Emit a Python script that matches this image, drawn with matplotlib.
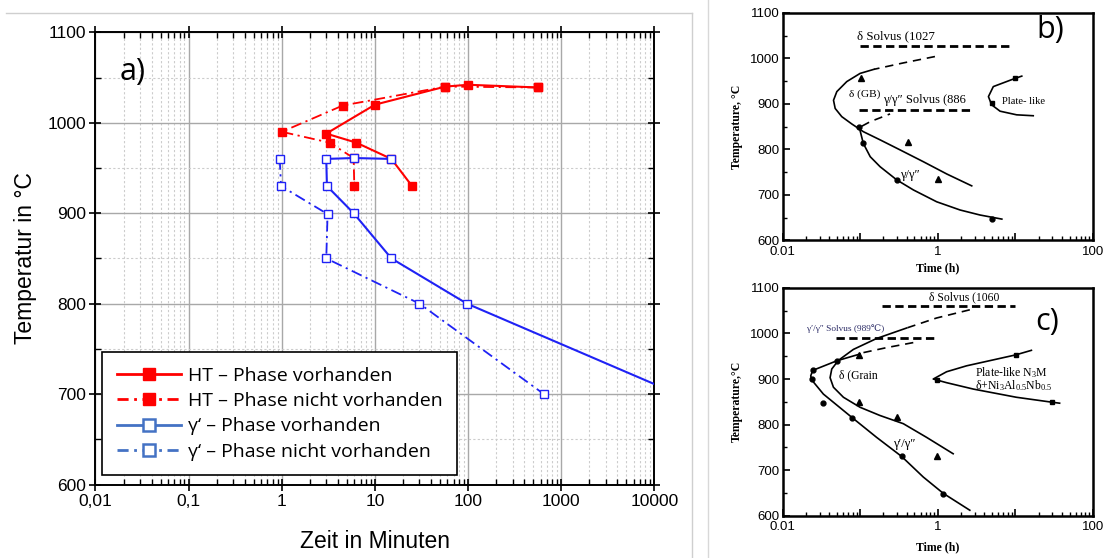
import matplotlib
matplotlib.use("Agg")
import matplotlib.pyplot as plt
from matplotlib.lines import Line2D
from matplotlib.ticker import FixedLocator, FixedFormatter, LogLocator, MultipleLocator, NullFormatter

plt.rcParams['mathtext.fontset'] = 'custom'
plt.rcParams['mathtext.rm'] = 'Liberation Serif'
plt.rcParams['mathtext.default'] = 'regular'

# --- a) Daten (Zeit in Minuten, Temperatur in °C) ---
ht_v_t = [25, 15, 6.3, 3.0, 10, 57, 100, 565]
ht_v_T = [930, 960, 978, 988, 1020, 1040, 1042, 1039]
ht_n_t = [565, 57, 4.5, 1.0, 3.25, 5.9, 6.0]
ht_n_T = [1039, 1040, 1019, 990, 978, 961, 930]
g_v_t = [15, 5.9, 3.0, 3.05, 5.9, 15, 97, 10000]
g_v_T = [960, 961, 960, 930, 900, 850, 800, 711]
g_n_t = [0.95, 0.98, 3.1, 3.0, 30, 650]
g_n_T = [960, 930, 899, 850, 800, 700]

x_ticks_a = [0.01, 0.1, 1, 10, 100, 1000, 10000]
x_labels_a = ['0,01', '0,1', '1', '10', '100', '1000', '10000']

# --- b) Daten (Zeit in h) ---
b_dgb_dash_t = [0.92, 0.36, 0.151]
b_dgb_dash_T = [1004, 990, 976]
b_dgb_t = [0.151, 0.1, 0.0673, 0.0501, 0.0454, 0.0477, 0.058, 0.078, 0.110, 0.181, 0.327, 0.653, 1.31, 2.74]
b_dgb_T = [976, 967, 949, 927, 908, 890, 872, 856, 839, 821, 799, 773, 746, 720]
b_gam_t = [0.097, 0.110, 0.135, 0.181, 0.297, 0.486, 0.97, 1.94, 3.5, 6.7]
b_gam_T = [850, 813, 784, 762, 733, 711, 685, 667, 656, 647]
b_gam_dash_t = [0.105, 0.135, 0.243]
b_gam_dash_T = [851, 861, 878]
b_plate_t = [12.1, 9.9, 5.2, 4.5, 4.95, 6.35, 10.4, 17]
b_plate_T = [961, 956, 938, 916, 898, 884, 876, 874]
b_tri_t = [0.103, 0.41, 1.02]
b_tri_T = [956, 817, 734]
b_dot_t = [0.097, 0.108, 0.297, 5.0]
b_dot_T = [850, 815, 733, 648]
b_sq_t = [9.9, 4.95]
b_sq_T = [956, 901]
b_delta_solvus = 1027
b_delta_span = [0.1, 9.4]
b_gam_solvus = 886
b_gam_span = [0.097, 2.6]

# --- c) Daten (Zeit in h) ---
c_out_dash_t = [0.484, 0.220, 0.110]
c_out_dash_T = [980, 969, 958]
c_out_t = [0.0998, 0.050, 0.0245, 0.0231, 0.0238, 0.0336, 0.078, 0.163, 0.343, 0.65, 1.18, 2.59]
c_out_T = [955, 940, 919, 907, 898, 867, 816, 772, 730, 685, 649, 612]
c_in_dash_t = [2.59, 0.966, 0.397]
c_in_dash_T = [1052, 1034, 1012]
c_in_t = [0.397, 0.163, 0.0818, 0.0525, 0.0431, 0.0410, 0.0453, 0.0609, 0.0998, 0.180, 0.360, 0.718, 1.58]
c_in_T = [1012, 989, 965, 941, 922, 903, 882, 860, 838, 820, 802, 772, 736]
c_plate_t = [16.1, 10.1, 2.35, 1.30, 0.875, 1.30, 2.87, 10.3, 30, 37.2]
c_plate_T = [963, 953, 929, 916, 900, 892, 878, 860, 849, 847]
c_tri_t = [0.0977, 0.0977, 0.296, 0.987]
c_tri_T = [953, 849, 816, 730]
c_dot_t = [0.0245, 0.0238, 0.0336, 0.078, 0.050, 0.343, 1.18]
c_dot_T = [919, 900, 848, 815, 940, 730, 647]
c_sq_t = [10.1, 0.97, 30]
c_sq_T = [953, 898, 849]
c_delta_solvus = 1060
c_delta_span = [0.19, 9.8]
c_gam_solvus = 989
c_gam_span = [0.049, 0.967]

RED = '#ff0000'
BLUE = '#1f22f5'
BLUE_LEG = '#4472c4'
DASHDOT = (0, (6, 2.5, 1.2, 2.5))

fig = plt.figure(figsize=(11.04, 5.58), dpi=100)

# Rahmen / Trennlinien
fig.add_artist(Line2D([6 / 1104, 692 / 1104], [1 - 13.3 / 558] * 2, transform=fig.transFigure, color='#cfcfcf', lw=1))
fig.add_artist(Line2D([692 / 1104] * 2, [1 - 13.3 / 558, 0], transform=fig.transFigure, color='#cfcfcf', lw=1))
fig.add_artist(Line2D([708 / 1104] * 2, [1, 0], transform=fig.transFigure, color='#d8d8d8', lw=1))

# ---------------- a) ----------------
ax = fig.add_axes([0.0865, 0.1317, 0.5063, 0.8104])
ax.set_xscale('log')
ax.set_xlim(0.01, 10000)
ax.set_ylim(600, 1100)
ax.xaxis.set_major_locator(FixedLocator(x_ticks_a))
ax.xaxis.set_major_formatter(FixedFormatter(x_labels_a))
ax.xaxis.set_minor_locator(LogLocator(base=10, subs=range(2, 10), numticks=20))
ax.xaxis.set_minor_formatter(NullFormatter())
ax.yaxis.set_major_locator(MultipleLocator(100))
ax.yaxis.set_minor_locator(MultipleLocator(50))
ax.grid(which='major', color='#a8a8a8', lw=1.0, ls='-')
ax.grid(which='minor', color='#cccccc', lw=0.8, ls=(0, (2, 2)))
ax.set_axisbelow(True)
ax.tick_params(which='major', direction='inout', length=8, width=1.2, top=True, right=True,
               labelsize=12.5, labelfontfamily='Liberation Sans', pad=3)
ax.tick_params(which='minor', direction='in', length=4, width=1.0, top=True, right=True)
for s in ax.spines.values():
    s.set_linewidth(1.4)

ax.plot(ht_v_t, ht_v_T, color=RED, lw=1.5, marker='s', ms=6, mfc=RED, mec=RED, zorder=3)
ax.plot(ht_n_t, ht_n_T, color=RED, lw=1.3, ls=DASHDOT, marker='s', ms=6, mfc=RED, mec=RED, zorder=3)
ax.plot(g_v_t, g_v_T, color=BLUE, lw=1.5, marker='s', ms=6, mfc='white', mec=BLUE,
        markevery=list(range(len(g_v_t) - 1)), zorder=4)
ax.plot(g_n_t, g_n_T, color=BLUE, lw=1.3, ls=DASHDOT, marker='s', ms=6, mfc='white', mec=BLUE, zorder=4)

ax.set_xlabel('Zeit in Minuten', fontsize=16.5, family='Liberation Sans')
ax.set_ylabel('Temperatur in °C', fontsize=16.5, family='Liberation Sans')
ax.xaxis.set_label_coords(0.5, -0.1)
ax.yaxis.set_label_coords(-0.104, 0.5)
ax.text(0.044, 0.913, 'a)', transform=ax.transAxes, fontsize=22, family='Open Sans', ha='left', va='center')

handles = [
    Line2D([], [], color=RED, lw=2, marker='s', ms=8, mfc=RED, mec=RED),
    Line2D([], [], color=RED, lw=2, ls=(0, (4, 2, 1, 2)), marker='s', ms=8, mfc=RED, mec=RED),
    Line2D([], [], color=BLUE_LEG, lw=2, marker='s', ms=8, mfc='white', mec=BLUE_LEG, mew=1.8),
    Line2D([], [], color=BLUE_LEG, lw=2, ls=(0, (4, 2, 1, 2)), marker='s', ms=8, mfc='white', mec=BLUE_LEG, mew=1.8),
]
labels = ['HT – Phase vorhanden', 'HT – Phase nicht vorhanden',
          'γ‘ – Phase vorhanden', 'γ‘ – Phase nicht vorhanden']
leg = ax.legend(handles, labels, loc='lower left', bbox_to_anchor=(0.012, 0.02), borderaxespad=0,
                fancybox=False, framealpha=1, edgecolor='black', handlelength=3.3, numpoints=1,
                labelspacing=0.38, borderpad=0.75, handletextpad=0.35,
                prop={'family': 'Open Sans', 'size': 14})
leg.get_frame().set_linewidth(1.2)


# ---------------- b) / c) ----------------
def setup_small(axs):
    axs.set_xscale('log')
    axs.set_xlim(0.01, 100)
    axs.set_ylim(600, 1100)
    axs.xaxis.set_major_locator(FixedLocator([0.01, 0.1, 1, 10, 100]))
    axs.xaxis.set_major_formatter(FixedFormatter(['0.01', '', '1', '', '100']))
    axs.xaxis.set_minor_locator(LogLocator(base=10, subs=range(2, 10), numticks=20))
    axs.xaxis.set_minor_formatter(NullFormatter())
    axs.yaxis.set_major_locator(MultipleLocator(100))
    axs.yaxis.set_minor_locator(MultipleLocator(50))
    axs.tick_params(which='major', direction='in', length=5, width=1.2, labelsize=9.5,
                    labelfontfamily='Liberation Sans', pad=2)
    axs.tick_params(axis='x', which='major', pad=4)
    axs.tick_params(which='minor', direction='in', length=3, width=1.0)
    for s in axs.spines.values():
        s.set_linewidth(1.8)
    axs.set_xlabel('Time (h)', fontsize=8.5, family='Liberation Serif', weight='bold')


SERIF = 'Liberation Serif'
HDASH = (0, (3, 1.6))
CDASH = (0, (5, 3.5))

bx = fig.add_axes([0.7088, 0.569, 0.2812, 0.408])
setup_small(bx)
bx.set_ylabel('Temperature, °C', fontsize=8.5, family=SERIF, weight='bold')
bx.xaxis.set_label_coords(0.5, -0.095)
bx.yaxis.set_label_coords(-0.128, 0.5)
bx.plot(b_dgb_dash_t, b_dgb_dash_T, color='black', lw=1.2, ls=CDASH)
bx.plot(b_dgb_t, b_dgb_T, color='black', lw=1.2)
bx.plot(b_gam_t, b_gam_T, color='black', lw=1.2)
bx.plot(b_gam_dash_t, b_gam_dash_T, color='black', lw=1.2, ls=CDASH)
bx.plot(b_plate_t, b_plate_T, color='black', lw=1.2)
bx.plot(b_delta_span, [b_delta_solvus] * 2, color='black', lw=2, ls=HDASH)
bx.plot(b_gam_span, [b_gam_solvus] * 2, color='black', lw=2, ls=HDASH)
bx.plot(b_tri_t, b_tri_T, ls='none', marker='^', ms=5, color='black')
bx.plot(b_dot_t, b_dot_T, ls='none', marker='o', ms=3.5, color='black')
bx.plot(b_sq_t, b_sq_T, ls='none', marker='s', ms=3.5, color='black')
bx.text(0.09, 1048, 'δ Solvus (1027', fontsize=9.3, family=SERIF, va='center')
bx.text(0.071, 921, 'δ (GB)', fontsize=8.2, family=SERIF, va='center')
bx.text(0.196, 908, 'γ/γ″ Solvus (886', fontsize=9, family=SERIF, va='center')
bx.text(6.7, 905, 'Plate- like', fontsize=7.6, family=SERIF, va='center')
bx.text(0.33, 744, 'γ/γ″', fontsize=9, family=SERIF, va='center')
bx.text(27.9, 1062, 'b)', fontsize=22, family='Open Sans', ha='center', va='center')

cx = fig.add_axes([0.7088, 0.0758, 0.2812, 0.4082])
setup_small(cx)
cx.set_ylabel('Temperature,°C', fontsize=8.5, family=SERIF, weight='bold')
cx.xaxis.set_label_coords(0.5, -0.112)
cx.yaxis.set_label_coords(-0.128, 0.5)
cx.plot(c_out_dash_t, c_out_dash_T, color='black', lw=1.2, ls=CDASH)
cx.plot(c_out_t, c_out_T, color='black', lw=1.2)
cx.plot(c_in_dash_t, c_in_dash_T, color='black', lw=1.2, ls=CDASH)
cx.plot(c_in_t, c_in_T, color='black', lw=1.2)
cx.plot(c_plate_t, c_plate_T, color='black', lw=1.2)
cx.plot(c_delta_span, [c_delta_solvus] * 2, color='black', lw=2, ls=HDASH)
cx.plot(c_gam_span, [c_gam_solvus] * 2, color='black', lw=2, ls=HDASH)
cx.plot(c_tri_t, c_tri_T, ls='none', marker='^', ms=5, color='black')
cx.plot(c_dot_t, c_dot_T, ls='none', marker='o', ms=3.5, color='black')
cx.plot(c_sq_t, c_sq_T, ls='none', marker='s', ms=3.5, color='black')
cx.text(0.778, 1080, 'δ Solvus (1060', fontsize=8.4, family=SERIF, va='center')
cx.text(0.0206, 1011, 'γ′/γ″ Solvus (989℃)', fontsize=6.7, family=[SERIF, 'DejaVu Serif'],
        color='#2b2b66', va='center')
cx.text(0.054, 909, 'δ (Grain', fontsize=8.4, family=SERIF, va='center')
cx.text(0.268, 758, 'γ′/γ″', fontsize=9, family=SERIF, va='center')
cx.text(3.0, 914, 'Plate-like N$_3$M', fontsize=8.5, family=SERIF, va='center')
cx.text(3.0, 885, 'δ+Ni$_3$Al$_{0.5}$Nb$_{0.5}$', fontsize=8.5, family=SERIF, va='center')
cx.text(25.6, 1025, 'c)', fontsize=22, family='Open Sans', ha='center', va='center')

fig.savefig('out.png', dpi=100)
